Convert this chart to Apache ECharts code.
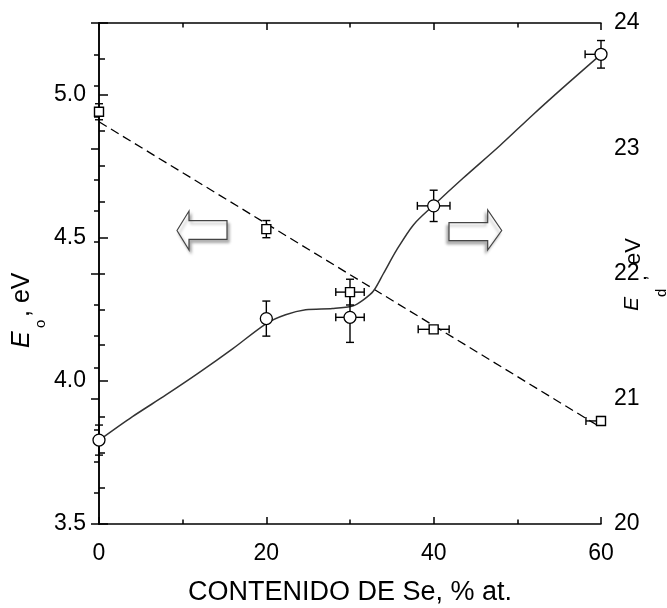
<!DOCTYPE html>
<html>
<head>
<meta charset="utf-8">
<script src="https://cdn.jsdelivr.net/npm/echarts@6/dist/echarts.min.js"></script>
<style>
html,body{margin:0;padding:0;background:#fff;}
#main{width:667px;height:608px;}
</style>
</head>
<body>
<div id="main"></div>
<script>
// ---- data ----
const xValues   = [0, 20, 30, 40, 60];            // Se content, % at.
const eoValues  = [4.94, 4.53, 4.31, 4.18, 3.86]; // E_o, eV (squares, left axis)
const eoErrX    = [0, 0, 1.7, 1.85, 1.8];
const eoErrY    = [0.028, 0.03, 0.045, 0.012, 0.015];
const edValues  = [20.67, 21.64, 21.65, 22.54, 23.75]; // E_d, eV (circles, right axis)
const edErrX    = [0, 0, 1.7, 1.95, 1.9];
const edErrY    = [0.12, 0.14, 0.2, 0.125, 0.11];
const fitX      = [0, 60];                         // dashed linear fit of E_o
const fitEo     = [4.905, 3.837];
const curveX    = [0, 4, 8, 12, 16, 20, 22.3, 24.7, 27.9, 30.3, 31.6, 32.8, 34, 35.6, 37.6, 40, 43.5, 47.9, 51.9, 55.9, 60];
const curveEd   = [20.668, 20.857, 21.03, 21.21, 21.40, 21.60, 21.67, 21.71, 21.72, 21.74, 21.79, 21.86, 22.0, 22.19, 22.39, 22.545, 22.76, 23.02, 23.27, 23.51, 23.75];
const xTickLabels = ['0', '20', '40', '60'];
const leftTickLabels = ['3.5', '4.0', '4.5', '5.0'];
const rightTickLabels = ['20', '21', '22', '23', '24'];

const FONT = '"Liberation Sans", Arial, Helvetica, sans-serif';
const X_MIN = 0, X_MAX = 60;

const pairs = (xs, ys) => xs.map((x, i) => [x, ys[i]]);
const errRows = (xs, ys, ex, ey) => xs.map((x, i) => [x, ys[i], ex[i], ey[i]]);

function renderErr(params, api) {
  const x = api.value(0), y = api.value(1), ex = api.value(2), ey = api.value(3);
  const st = { stroke: '#000', lineWidth: 1.4, fill: null };
  const cap = 4;
  const c = api.coord([x, y]);
  const ch = [];
  if (ey > 0) {
    const t = api.coord([x, y + ey]), b = api.coord([x, y - ey]);
    ch.push({ type: 'line', shape: { x1: c[0], y1: t[1], x2: c[0], y2: b[1] }, style: st });
    ch.push({ type: 'line', shape: { x1: c[0] - cap, y1: t[1], x2: c[0] + cap, y2: t[1] }, style: st });
    ch.push({ type: 'line', shape: { x1: c[0] - cap, y1: b[1], x2: c[0] + cap, y2: b[1] }, style: st });
  }
  if (ex > 0) {
    if (x - ex >= X_MIN) {
      const l = api.coord([x - ex, y]);
      ch.push({ type: 'line', shape: { x1: l[0], y1: c[1], x2: c[0], y2: c[1] }, style: st });
      ch.push({ type: 'line', shape: { x1: l[0], y1: c[1] - cap, x2: l[0], y2: c[1] + cap }, style: st });
    }
    if (x + ex <= X_MAX) {
      const r = api.coord([x + ex, y]);
      ch.push({ type: 'line', shape: { x1: c[0], y1: c[1], x2: r[0], y2: c[1] }, style: st });
      ch.push({ type: 'line', shape: { x1: r[0], y1: c[1] - cap, x2: r[0], y2: c[1] + cap }, style: st });
    }
  }
  return { type: 'group', children: ch };
}

const axisLine = { show: true, lineStyle: { color: '#000', width: 1.5 } };
const tickStyle = { color: '#000', width: 1.5 };
const labelStyle = { color: '#000', fontSize: 23, fontFamily: FONT };

const chart = echarts.init(document.getElementById('main'), null, { renderer: 'canvas' });

const arrowStyle = (dx) => ({
  fill: '#fff', stroke: '#444', lineWidth: 1.2,
  shadowBlur: 3, shadowOffsetX: dx, shadowOffsetY: 3, shadowColor: 'rgba(0,0,0,0.3)'
});

chart.setOption({
  animation: false,
  backgroundColor: '#fff',
  grid: { left: 99, right: 66, top: 23, bottom: 84, outerBoundsMode: 'none', containLabel: false },
  xAxis: [
    {
      type: 'value', min: X_MIN, max: X_MAX, interval: 20, position: 'bottom',
      name: 'CONTENIDO DE Se, % at.', nameLocation: 'middle', nameGap: 55,
      nameTextStyle: { color: '#000', fontSize: 27, fontFamily: FONT },
      axisLine: axisLine, splitLine: { show: false },
      axisTick: { show: true, inside: true, length: 7, lineStyle: tickStyle },
      minorTick: { show: true, splitNumber: 2, length: 4.5, lineStyle: tickStyle },
      axisLabel: Object.assign({ margin: 18, formatter: v => xTickLabels.includes(String(v)) ? String(v) : '' }, labelStyle)
    },
    {
      type: 'value', min: X_MIN, max: X_MAX, interval: 20, position: 'top',
      axisLine: axisLine, splitLine: { show: false },
      axisTick: { show: true, inside: true, length: 7, lineStyle: tickStyle },
      minorTick: { show: true, splitNumber: 2, length: 4.5, lineStyle: tickStyle },
      axisLabel: { show: false }
    }
  ],
  yAxis: [
    {
      type: 'value', min: 3.5, max: 5.25, interval: 0.125, position: 'left',
      axisLine: axisLine, splitLine: { show: false },
      axisTick: { show: true, inside: true, length: 6, lineStyle: tickStyle },
      axisLabel: Object.assign({
        margin: 13, showMaxLabel: false,
        formatter: v => { const s = v.toFixed(1); return (Math.abs(v * 2 - Math.round(v * 2)) < 1e-6 && leftTickLabels.includes(s)) ? s : ''; }
      }, labelStyle)
    },
    {
      type: 'value', min: 20, max: 24, interval: 1, position: 'right',
      axisLine: axisLine, splitLine: { show: false },
      axisTick: { show: true, inside: true, length: 8, lineStyle: tickStyle },
      minorTick: { show: true, splitNumber: 4, length: 5, lineStyle: tickStyle },
      axisLabel: Object.assign({ margin: 13, formatter: v => rightTickLabels.includes(String(v)) ? String(v) : '' }, labelStyle)
    },
    {
      type: 'value', min: 3.5, max: 5.25, interval: 0.5, position: 'left',
      axisLine: { show: false }, splitLine: { show: false },
      axisTick: { show: true, inside: true, length: 9, lineStyle: tickStyle },
      axisLabel: { show: false }
    }
  ],
  series: [
    {
      type: 'line', name: 'fit Eo', xAxisIndex: 0, yAxisIndex: 0, data: pairs(fitX, fitEo),
      showSymbol: false, symbol: 'none', lineStyle: { color: '#000', width: 1.3, type: [9, 5] }, z: 2, silent: true
    },
    {
      type: 'line', name: 'fit Ed', xAxisIndex: 0, yAxisIndex: 1, data: pairs(curveX, curveEd),
      showSymbol: false, symbol: 'none', smooth: 0.3, lineStyle: { color: '#333', width: 1.5 }, z: 2, silent: true
    },
    {
      type: 'custom', name: 'err Eo', xAxisIndex: 0, yAxisIndex: 0,
      data: errRows(xValues, eoValues, eoErrX, eoErrY), renderItem: renderErr,
      encode: { x: 0, y: 1 }, z: 3, silent: true, clip: false
    },
    {
      type: 'custom', name: 'err Ed', xAxisIndex: 0, yAxisIndex: 1,
      data: errRows(xValues, edValues, edErrX, edErrY), renderItem: renderErr,
      encode: { x: 0, y: 1 }, z: 3, silent: true, clip: false
    },
    {
      type: 'scatter', name: 'Eo', xAxisIndex: 0, yAxisIndex: 0, data: pairs(xValues, eoValues),
      symbol: 'rect', symbolSize: 9, clip: false,
      itemStyle: { color: '#fff', opacity: 1, borderColor: '#000', borderWidth: 1.4 }, z: 5, silent: true
    },
    {
      type: 'scatter', name: 'Ed', xAxisIndex: 0, yAxisIndex: 1, data: pairs(xValues, edValues),
      symbol: 'circle', symbolSize: 12, clip: false,
      itemStyle: { color: '#fff', opacity: 1, borderColor: '#000', borderWidth: 1.3 }, z: 5, silent: true
    }
  ],
  graphic: [
    { type: 'polygon', shape: { points: [[177, 230.5], [189, 211], [189, 220.7], [227, 220.7], [227, 239.3], [189, 239.3], [189, 250]] }, style: arrowStyle(2), silent: true },
    { type: 'polygon', shape: { points: [[449, 222.7], [487.7, 222.7], [487.7, 210], [501.7, 230.5], [487.7, 250], [487.7, 240.7], [449, 240.7]] }, style: arrowStyle(-2), silent: true },
    {
      type: 'group', x: 22.5, y: 348, rotation: Math.PI / 2, silent: true,
      children: [
        { type: 'text', x: 0, y: 0, style: { text: 'E', font: 'italic 25px ' + FONT, fill: '#000', verticalAlign: 'middle', align: 'left' } },
        { type: 'text', x: 20, y: 18.5, style: { text: 'o', font: '15px ' + FONT, fill: '#000', verticalAlign: 'middle', align: 'left' } },
        { type: 'text', x: 31, y: 0, style: { text: ', eV', font: '25px ' + FONT, fill: '#000', verticalAlign: 'middle', align: 'left' } }
      ]
    },
    {
      type: 'group', x: 632.5, y: 311, rotation: Math.PI / 2, silent: true,
      children: [
        { type: 'text', x: 0, y: 0, style: { text: 'E', font: 'italic 21px ' + FONT, fill: '#000', verticalAlign: 'middle', align: 'left' } },
        { type: 'text', x: 14, y: 29.5, style: { text: 'd', font: '15px ' + FONT, fill: '#000', verticalAlign: 'middle', align: 'left' } },
        { type: 'text', x: 30, y: 8, style: { text: ',', font: '21px ' + FONT, fill: '#000', verticalAlign: 'middle', align: 'left' } },
        { type: 'text', x: 46, y: 1.5, style: { text: 'eV', font: '22px ' + FONT, fill: '#000', verticalAlign: 'middle', align: 'left' } }
      ]
    }
  ]
});
</script>
</body>
</html>
